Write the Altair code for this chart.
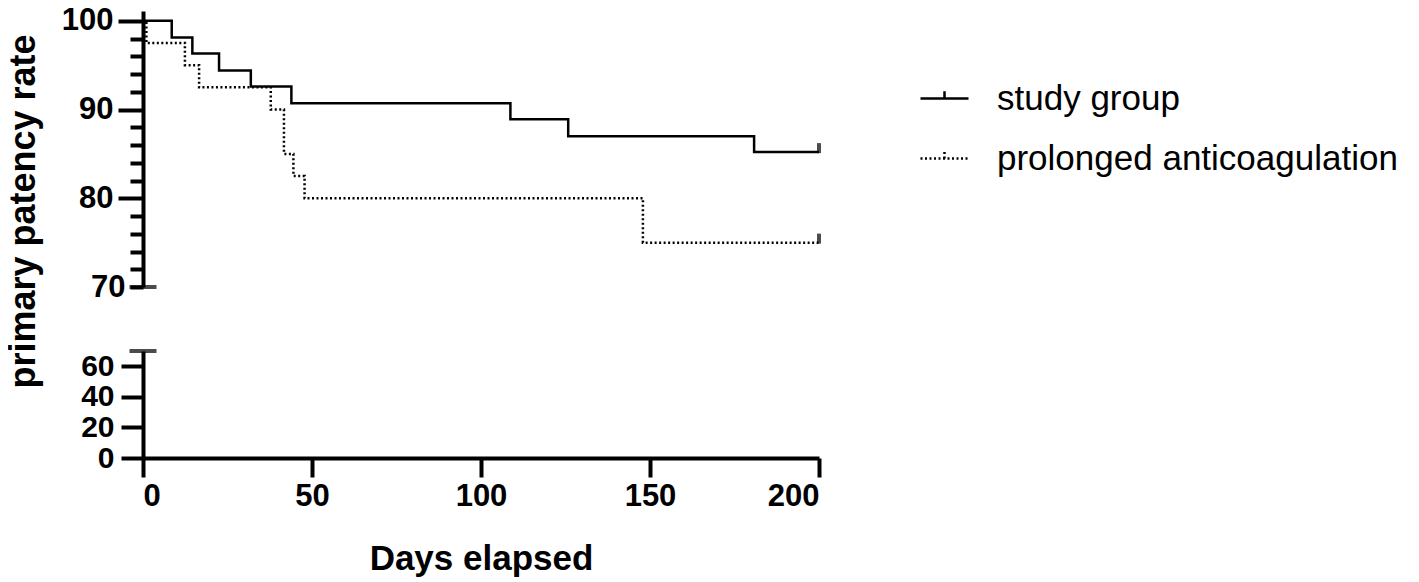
import altair as alt
import pandas as pd

# ---- data ----
groups = ["study group", "prolonged anticoagulation"]

study_days = [0, 8.5, 14.6, 22.5, 31.9, 43.9, 108.7, 125.8, 180.8, 200]
study_rate = [100, 98.1, 96.3, 94.4, 92.6, 90.7, 88.9, 87.0, 85.2, 85.2]

prol_days = [0, 1, 12.4, 16.6, 37.8, 41.7, 44.5, 47.8, 147.9, 200]
prol_rate = [100, 97.5, 95.0, 92.5, 90.0, 85.0, 82.5, 80.0, 75.0, 75.0]

censor_days = [200, 200]
censor_rate = [85.2, 75.0]

x_ticks = [0, 50, 100, 150, 200]
top_ticks = list(range(70, 101, 2))
bottom_ticks = [0, 20, 40, 60]
break_value = [70]

# ---- tables ----
rows = []
for d, r in zip(study_days, study_rate):
    rows.append({"day": d, "rate": r, "group": groups[0]})
for d, r in zip(prol_days, prol_rate):
    rows.append({"day": d, "rate": r, "group": groups[1]})
df = pd.DataFrame(rows)
censor = pd.DataFrame({"day": censor_days, "rate": censor_rate, "group": groups})
cap = pd.DataFrame({"day": [0], "rate": break_value})

FONT = "Liberation Sans"

axis_style = dict(
    domainColor="black", domainWidth=4, tickColor="black", tickWidth=4,
    labelFont=FONT, labelFontWeight="bold", labelColor="black",
    labelOverlap=False, grid=False,
)

xscale = alt.Scale(domain=[0, 200], nice=False, zero=False)
top_scale = alt.Scale(domain=[70, 101.1], nice=False, zero=False)
bot_scale = alt.Scale(domain=[0, 70], nice=False, zero=False)

top_axis = alt.Axis(
    values=top_ticks,
    labelExpr="datum.value % 10 === 0 ? datum.label : ''",
    tickSize={"condition": {"test": "datum.value % 10 === 0 && datum.value > 70", "value": 25}, "value": 13},
    labelPadding=5, labelFontSize=31,
    title="primary patency rate",
    titleFont=FONT, titleFontSize=36, titleFontWeight="bold", titleColor="black",
    titleAngle=270, titleAlign="center", titleBaseline="bottom",
    titleX=-101, titleY=200,
    **axis_style,
)

x_top = alt.X("day:Q", scale=xscale, axis=None)
y_top = alt.Y("rate:Q", scale=top_scale, axis=top_axis)

legend = alt.Legend(
    title=None, orient="none", legendX=776, legendY=62,
    symbolType="M-1,0L1,0M0,0L0,-0.3", symbolSize=2304,
    symbolStrokeWidth=2.5, symbolStrokeColor="black",
    labelFont=FONT, labelFontSize=35, labelColor="black",
    labelOffset=27, labelLimit=700, rowPadding=16, padding=0,
)

lines = alt.Chart(df).mark_line(interpolate="step-after", color="black", strokeWidth=2.5).encode(
    x=x_top, y=y_top,
    strokeDash=alt.StrokeDash("group:N", scale=alt.Scale(domain=groups, range=[[1, 0], [2, 2.5]]), legend=legend),
)

censor_marks = alt.Chart(censor).mark_tick(orient="vertical", size=10, thickness=4, yOffset=-4, color="black").encode(
    x=x_top, y=y_top,
)

top_cap = alt.Chart(cap).mark_tick(orient="horizontal", size=27, thickness=4, color="black").encode(
    x=x_top, y=y_top,
)

top = alt.layer(lines, censor_marks, top_cap).properties(width=676, height=276)

x_bottom = alt.X(
    "day:Q", scale=xscale,
    axis=alt.Axis(
        values=x_ticks, tickSize=19, labelPadding=4, labelFontSize=31,
        title="Days elapsed", titleFont=FONT, titleFontSize=35, titleFontWeight="bold",
        titleColor="black", titleBaseline="alphabetic", titleY=111,
        **axis_style,
    ),
)
y_bottom = alt.Y(
    "rate:Q", scale=bot_scale,
    axis=alt.Axis(values=bottom_ticks, tickSize=22, labelPadding=7, labelFontSize=30, title=None, **axis_style),
)

bottom = alt.Chart(cap).mark_tick(orient="horizontal", size=27, thickness=4, color="black").encode(
    x=x_bottom, y=y_bottom,
).properties(width=676, height=107)

chart = alt.vconcat(top, bottom, spacing=64, bounds="flush").resolve_scale(y="independent").properties(
    padding={"left": -4, "top": -4, "right": 0, "bottom": 0}
).configure_view(stroke="transparent")

chart.save("out.html", embed_options={"renderer": "svg", "actions": False})
